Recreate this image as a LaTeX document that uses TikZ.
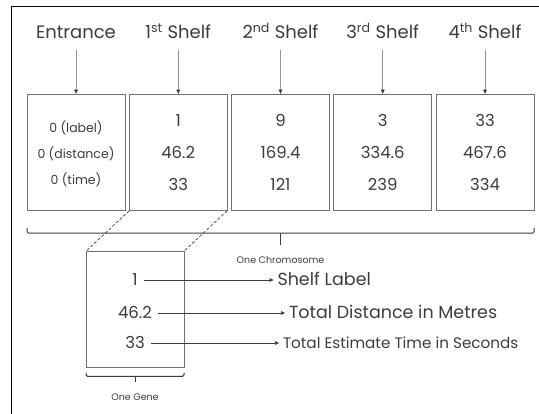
\documentclass[tikz,border=0pt]{standalone}
\usepackage{fontspec}
\setmainfont{Poppins}
\usetikzlibrary{positioning,calc,arrows.meta}
\definecolor{boxgray}{RGB}{112,112,112}
\definecolor{txtgray}{RGB}{60,60,60}
\definecolor{arrgray}{RGB}{150,150,150}

\begin{document}
\begin{tikzpicture}[
  x=1pt, y=-1pt,
  node distance=4.25pt,
  shelf/.style={rectangle, draw=boxgray, line width=0.9pt, minimum width=98pt, minimum height=116.5pt, inner sep=0pt, outer sep=0pt, align=center, text=txtgray, font=\fontsize{16.5}{32}\selectfont, text depth=-8pt},
  entry/.style={shelf, font=\fontsize{12.5}{26}\selectfont, text depth=-9pt},
  head/.style={inner xsep=0pt, inner ysep=11pt, outer sep=0pt, text depth=0pt, text=txtgray, font=\fontsize{18}{20}\selectfont},
  val/.style={inner xsep=6pt, inner ysep=0pt, text height=12pt, text depth=0pt, text=txtgray, font=\fontsize{16.5}{20}\selectfont},
  desc/.style={anchor=west, inner xsep=3.3pt, inner ysep=0pt, text height=12pt, text depth=0pt, text=txtgray},
  note/.style={inner sep=0pt, inner ysep=11pt, text height=7pt, text depth=0pt, text=txtgray, font=\fontsize{9.5}{11}\selectfont},
  down/.style={draw=arrgray, line width=0.8pt, -{Latex[length=4.5pt,width=4pt,color=black!80]}},
  point/.style={draw=txtgray, line width=0.6pt, -{Latex[length=4.5pt,width=4pt]}},
  dashline/.style={draw=txtgray, line width=0.7pt, dash pattern=on 3pt off 2pt},
  brace/.style={draw=txtgray, line width=1pt, rounded corners=1.5pt}
]
\useasboundingbox (0,0) rectangle (539,414);
\draw[line width=1.3pt] (11.5,414) -- (11.5,6.5) -- (539,6.5);

% chromosome
\node[entry] (b0) at (76,152.5) {0 (label)\\0 (distance)\\0 (time)};
\node[shelf, right=of b0] (b1) {1\\46.2\\33};
\node[shelf, right=of b1] (b2) {9\\169.4\\121};
\node[shelf, right=of b2] (b3) {3\\334.6\\239};
\node[shelf, right=of b3] (b4) {33\\467.6\\334};

\node[head, above=44.3pt of b0] (h0) {Entrance};
\node[head, above=44.3pt of b1] (h1) {1\textsuperscript{st} Shelf};
\node[head, above=44.3pt of b2] (h2) {2\textsuperscript{nd} Shelf};
\node[head, above=44.3pt of b3] (h3) {3\textsuperscript{rd} Shelf};
\node[head, above=44.3pt of b4] (h4) {4\textsuperscript{th} Shelf};
\draw[down] (h0) -- (b0);
\draw[down] (h1) -- (b1);
\draw[down] (h2) -- (b2);
\draw[down] (h3) -- (b3);
\draw[down] (h4) -- (b4);

\draw[brace] ([yshift=-17.5pt]b0.south west) -- ([yshift=-22.5pt]b0.south west) -- ([yshift=-22.5pt]b4.south east) -- ([yshift=-17.5pt]b4.south east);
\coordinate (cmid) at ($([yshift=-22.5pt]b0.south west)!0.5!([yshift=-22.5pt]b4.south east)$);
\node[note, below=12pt of cmid] (chrom) {One Chromosome};
\draw[brace] (cmid) -- (chrom);

% one gene
\node[shelf] (gene) at (135,309.4) {};
\draw[dashline] (b1.south west) -- (gene.north west);
\draw[dashline] (b1.south east) -- (gene.north east);
\node[val] (g1) at (135,280) {1};
\node[val] (g2) at (135,313) {46.2};
\node[val] (g3) at (135,343) {33};
\node[desc, font=\fontsize{17.5}{20}\selectfont] (d1) at (274,280) {Shelf Label};
\node[desc, font=\fontsize{17.5}{20}\selectfont] (d2) at (285.5,313) {Total Distance in Metres};
\node[desc, font=\fontsize{15.2}{20}\selectfont] (d3) at (279.5,343) {Total Estimate Time in Seconds};
\draw[point] (g1) -- (d1);
\draw[point] (g2) -- (d2);
\draw[point] (g3) -- (d3);

\draw[brace] ([yshift=-5pt]gene.south west) -- ([yshift=-8.8pt]gene.south west) -- ([yshift=-8.8pt]gene.south east) -- ([yshift=-5pt]gene.south east);
\coordinate (gmid) at ([yshift=-8.8pt]gene.south);
\node[note, below=5.5pt of gmid] (onegene) {One Gene};
\draw[brace] (gmid) -- (onegene);
\end{tikzpicture}
\end{document}
